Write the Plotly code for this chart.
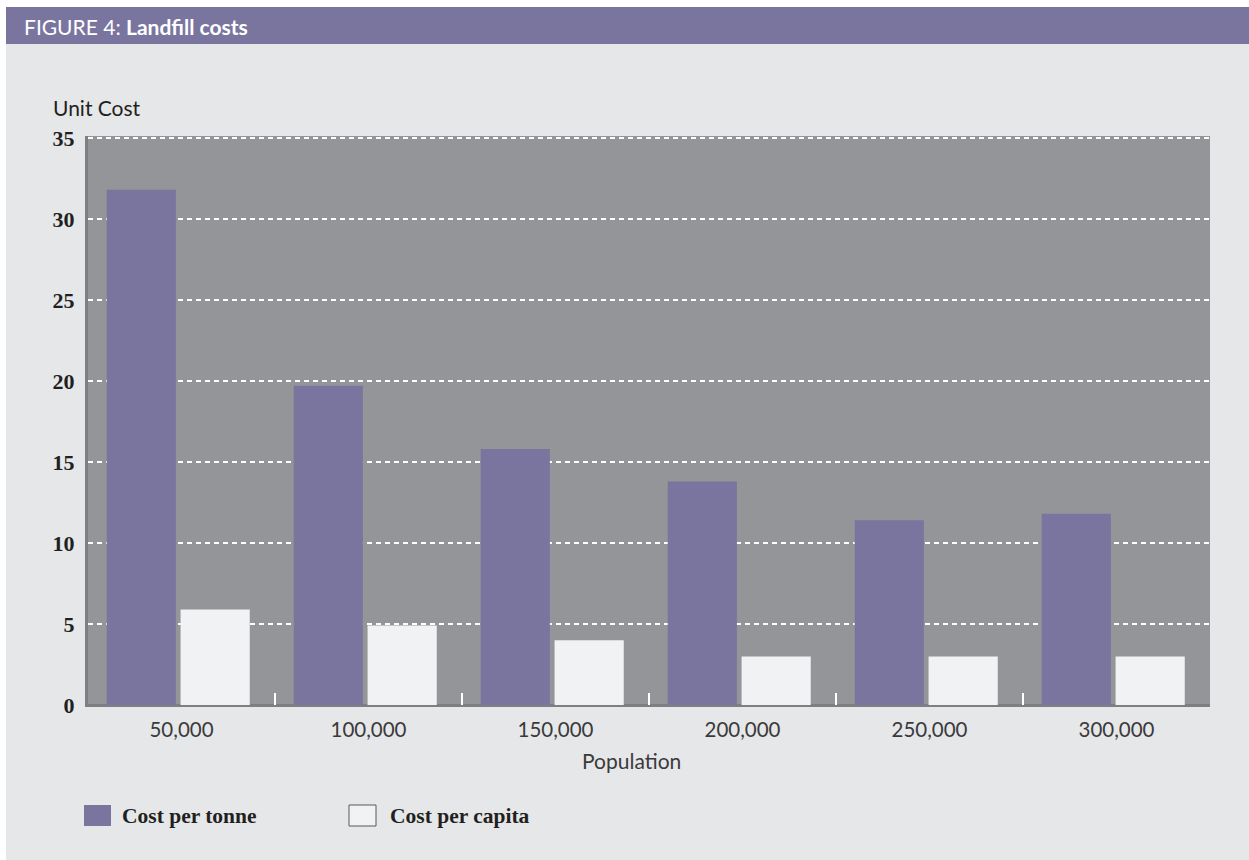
import plotly.graph_objects as go

categories = ["50,000", "100,000", "150,000", "200,000", "250,000", "300,000"]
cost_per_tonne = [31.8, 19.7, 15.8, 13.8, 11.4, 11.8]
cost_per_capita = [5.9, 4.9, 4.0, 3.0, 3.0, 3.0]
y_ticks = [0, 5, 10, 15, 20, 25, 30, 35]

W, H = 1249, 860
L, R, T, B = 88, 1210, 136, 705

PURPLE = "#7a759f"
WHITEBAR = "#f1f2f4"
PLOTBG = "#939598"
PAGEBG = "#e6e7e8"
AXIS = "#7e7f82"
TEXT = "#231f20"
SANS = "Lato"
SERIF = "Liberation Serif"


def xp(px):
    return (px - L) / (R - L)


def yp(py):
    return (B - py) / (B - T)


fig = go.Figure()
fig.add_trace(go.Bar(x=categories, y=cost_per_tonne, name="Cost per tonne",
                     width=0.37, offset=-0.40,
                     marker=dict(color=PURPLE, line=dict(width=0))))
fig.add_trace(go.Bar(x=categories, y=cost_per_capita, name="Cost per capita",
                     width=0.37, offset=-0.005,
                     marker=dict(color=WHITEBAR, line=dict(width=0))))

shapes = [
    dict(type="rect", xref="paper", yref="paper", x0=xp(0), x1=xp(6), y0=yp(H + 5), y1=yp(0),
         fillcolor="white", line=dict(width=0), layer="below"),
    dict(type="rect", xref="paper", yref="paper", x0=xp(0), x1=xp(W), y0=yp(7), y1=yp(0),
         fillcolor="white", line=dict(width=0), layer="below"),
    dict(type="rect", xref="paper", yref="paper", x0=xp(6), x1=xp(W), y0=yp(44), y1=yp(7),
         fillcolor=PURPLE, line=dict(width=0), layer="below"),
    dict(type="rect", xref="paper", yref="paper", x0=xp(84), x1=xp(111), y0=yp(826), y1=yp(805),
         fillcolor=PURPLE, line=dict(width=0)),
    dict(type="rect", xref="paper", yref="paper", x0=xp(349), x1=xp(376), y0=yp(826), y1=yp(805),
         fillcolor=WHITEBAR, line=dict(width=1, color="#58595b")),
]

annotations = [
    dict(xref="paper", yref="paper", x=xp(22), y=yp(26), xanchor="left", yanchor="middle",
         text="FIGURE 4: <b>Landfill costs</b>", showarrow=False,
         font=dict(family=SANS, size=21, color="white")),
    dict(xref="paper", yref="paper", x=xp(51), y=yp(108), xanchor="left", yanchor="middle",
         text="Unit Cost", showarrow=False, font=dict(family=SANS, size=21, color=TEXT)),
    dict(xref="paper", yref="paper", x=xp(631), y=yp(760), xanchor="center", yanchor="middle",
         text="Population", showarrow=False, font=dict(family=SANS, size=21, color="#3a3a3c")),
    dict(xref="paper", yref="paper", x=xp(120), y=yp(816), xanchor="left", yanchor="middle",
         text="<b>Cost per tonne</b>", showarrow=False, font=dict(family=SERIF, size=21.5, color=TEXT)),
    dict(xref="paper", yref="paper", x=xp(388), y=yp(816), xanchor="left", yanchor="middle",
         text="<b>Cost per capita</b>", showarrow=False, font=dict(family=SERIF, size=21.5, color=TEXT)),
]

fig.update_layout(
    width=W, height=H,
    margin=dict(l=L, r=W - R, t=T, b=H - B, pad=0),
    paper_bgcolor=PAGEBG,
    plot_bgcolor=PLOTBG,
    barmode="group",
    showlegend=False,
    shapes=shapes,
    annotations=annotations,
    xaxis=dict(
        type="category",
        range=[-0.5, 5.5],
        showgrid=False,
        showline=True, linecolor=AXIS, linewidth=2,
        ticks="inside", tickson="boundaries", ticklen=12, tickwidth=2, tickcolor="white",
        ticklabelstandoff=5,
        tickfont=dict(family=SANS, size=20.5, color="#3a3a3c"),
        automargin=False,
    ),
    yaxis=dict(
        range=[0, 35.12],
        tickvals=y_ticks,
        showgrid=True, gridcolor="white", gridwidth=1.5, griddash="5px,4px",
        zeroline=True, zerolinecolor=AXIS, zerolinewidth=2,
        showline=True, linecolor=AXIS, linewidth=3,
        ticks="outside", ticklen=6, tickcolor="rgba(0,0,0,0)",
        tickfont=dict(family=SERIF, size=22, color=TEXT, weight="bold"),
        automargin=False,
    ),
)

fig.write_html("out.html")
